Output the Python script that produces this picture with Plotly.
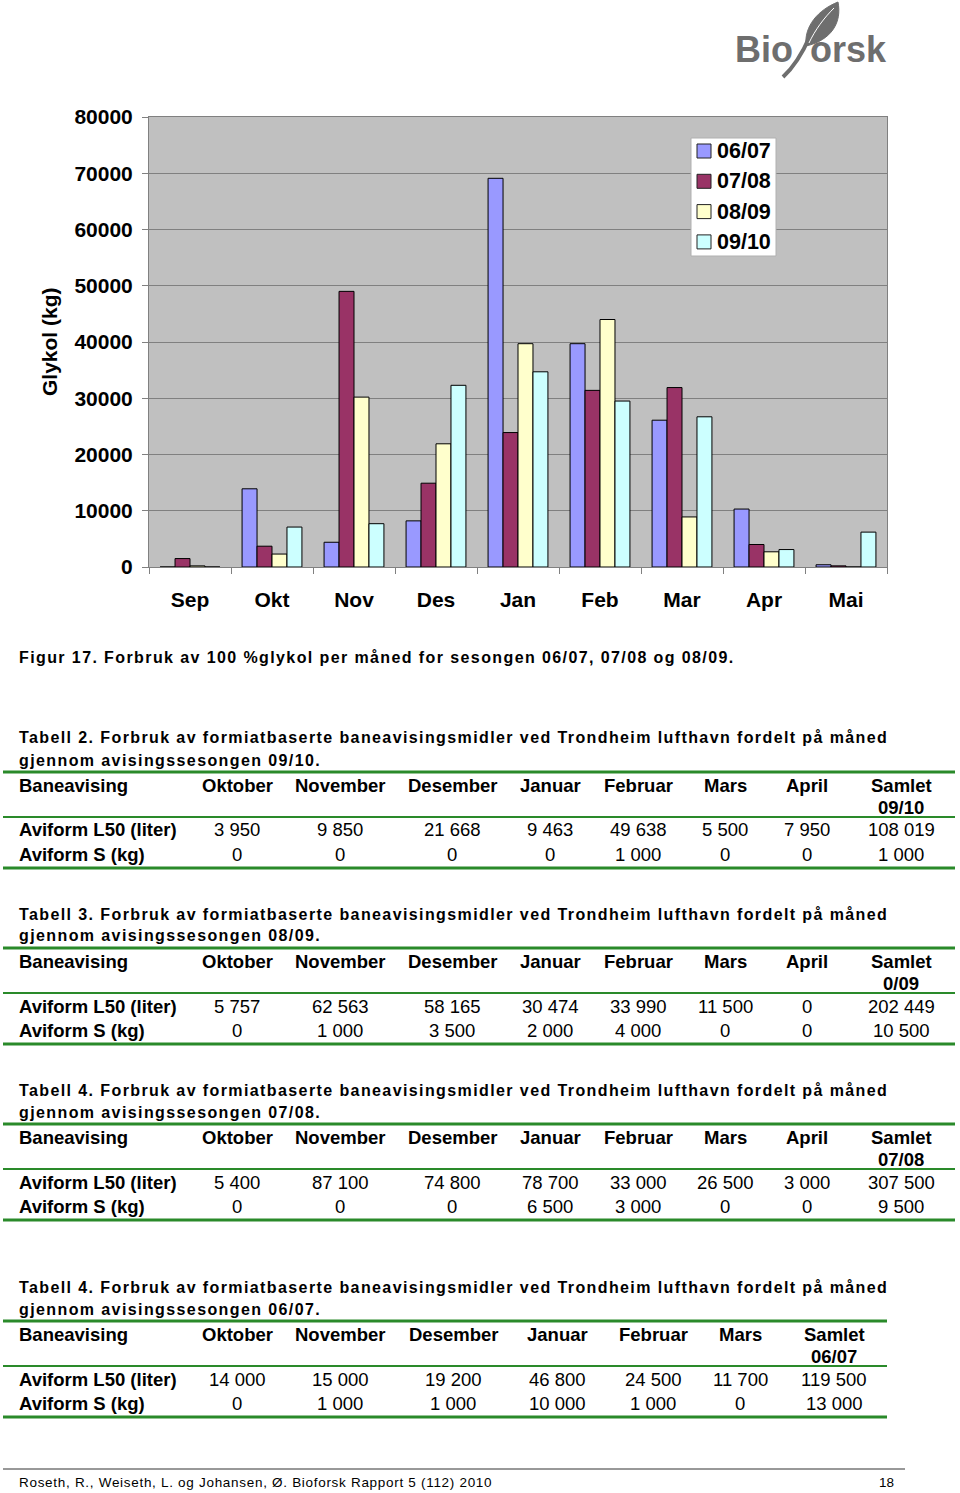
import plotly.graph_objects as go

W, H = 960, 1493

# ---------------- chart data ----------------
months = ["Sep", "Okt", "Nov", "Des", "Jan", "Feb", "Mar", "Apr", "Mai"]
season_names = ["06/07", "07/08", "08/09", "09/10"]
s0607 = [0, 13900, 4400, 8200, 69100, 39700, 26100, 10300, 400]
s0708 = [1500, 3700, 49000, 14900, 23900, 31400, 31900, 4000, 200]
s0809 = [200, 2300, 30200, 21900, 39700, 44000, 8900, 2700, 0]
s0910 = [0, 7100, 7700, 32300, 34700, 29500, 26700, 3100, 6200]
season_colors = ["#9999FF", "#993366", "#FFFFCC", "#CCFFFF"]
y_ticks = [0, 10000, 20000, 30000, 40000, 50000, 60000, 70000, 80000]

# ---------------- text data ----------------
fig_caption = "Figur 17. Forbruk av 100 %glykol per måned for sesongen 06/07, 07/08 og 08/09."
caption_line1 = "Forbruk av formiatbaserte baneavisingsmidler ved Trondheim lufthavn fordelt på måned"
row_labels = ["Aviform L50 (liter)", "Aviform S (kg)"]
months_7 = ["Oktober", "November", "Desember", "Januar", "Februar", "Mars", "April"]
months_6 = ["Oktober", "November", "Desember", "Januar", "Februar", "Mars"]

t2_name, t2_season, t2_total = "Tabell 2.", "09/10", "09/10"
t2_l50 = ["3 950", "9 850", "21 668", "9 463", "49 638", "5 500", "7 950", "108 019"]
t2_s = ["0", "0", "0", "0", "1 000", "0", "0", "1 000"]

t3_name, t3_season, t3_total = "Tabell 3.", "08/09", "0/09"
t3_l50 = ["5 757", "62 563", "58 165", "30 474", "33 990", "11 500", "0", "202 449"]
t3_s = ["0", "1 000", "3 500", "2 000", "4 000", "0", "0", "10 500"]

t4_name, t4_season, t4_total = "Tabell 4.", "07/08", "07/08"
t4_l50 = ["5 400", "87 100", "74 800", "78 700", "33 000", "26 500", "3 000", "307 500"]
t4_s = ["0", "0", "0", "6 500", "3 000", "0", "0", "9 500"]

t5_name, t5_season, t5_total = "Tabell 4.", "06/07", "06/07"
t5_l50 = ["14 000", "15 000", "19 200", "46 800", "24 500", "11 700", "119 500"]
t5_s = ["0", "1 000", "1 000", "10 000", "1 000", "0", "13 000"]

footer_text = "Roseth, R., Weiseth, L. og Johansen, Ø. Bioforsk Rapport 5 (112) 2010"
page_no = "18"

FONT = "Liberation Sans, Arial, sans-serif"
GREEN = "#2a8a2a"


def px(x):
    return x / W


def py(y):
    return 1 - y / H


annotations = []
shapes = []


def text(x, y, s, size, bold=False, anchor="left", color="black", angle=0):
    annotations.append(dict(
        x=px(x), y=py(y), xref="paper", yref="paper",
        text=("<b>%s</b>" % s) if bold else s, showarrow=False,
        xanchor=anchor, yanchor="middle", textangle=angle,
        align=anchor if anchor in ("left", "right") else "center",
        font=dict(family=FONT, size=size, color=color)))


def hline(x0, x1, y, width, color):
    shapes.append(dict(type="line", xref="paper", yref="paper",
                       x0=px(x0), x1=px(x1), y0=py(y), y1=py(y),
                       line=dict(color=color, width=width)))


def rect(x0, y0, x1, y1, fill, line_color, width=1):
    shapes.append(dict(type="rect", xref="paper", yref="paper",
                       x0=px(x0), x1=px(x1), y0=py(y0), y1=py(y1),
                       fillcolor=fill, line=dict(color=line_color, width=width)))


# ---------------- figure ----------------
fig = go.Figure()
for name, vals, col in zip(season_names, [s0607, s0708, s0809, s0910], season_colors):
    fig.add_trace(go.Bar(x=months, y=vals, name=name, showlegend=False,
                         marker=dict(color=col, line=dict(color="black", width=1))))

# legend (drawn as a box)
rect(691, 138, 776, 256, "white", "#b0b0b0")
for i, (name, col) in enumerate(zip(season_names, season_colors)):
    cy = 151 + 30.3 * i
    rect(697, cy - 7, 711, cy + 7, col, "#222222")
    text(715, cy, name, 21.5, bold=True)

# y-axis title
text(50, 342, "Glykol (kg)", 21, bold=True, anchor="center", angle=-90)

# figure caption
CAP = 16
text(17, 657, fig_caption, CAP, bold=True)


def draw_table(top, name, season, total_label, cols, centers, l50, s, line_right):
    cap_y = top
    text(17, cap_y, "%s %s" % (name, caption_line1), CAP, bold=True)
    text(17, cap_y + 22, "gjennom avisingssesongen %s." % season, CAP, bold=True)
    hline(3, line_right, cap_y + 34, 3, GREEN)
    hy = cap_y + 47
    text(17, hy, "Baneavising", 18.5, bold=True)
    for c, cx in zip(cols + ["Samlet"], centers):
        text(cx, hy, c, 18.5, bold=True, anchor="center")
    text(centers[-1], hy + 22, total_label, 18.5, bold=True, anchor="center")
    hline(3, line_right, cap_y + 79, 2, GREEN)
    ry = cap_y + 92
    for i, (lab, vals) in enumerate(zip(row_labels, [l50, s])):
        text(17, ry + 24 * i, lab, 18.5, bold=True)
        for v, cx in zip(vals, centers):
            text(cx, ry + 24 * i, v, 18.5, anchor="center")
    hline(3, line_right, cap_y + 130, 3, GREEN)


centers8 = [237, 340, 452, 550, 638, 725, 807, 901]
centers7 = [237, 340, 453, 557, 653, 740, 834]

draw_table(738, t2_name, t2_season, t2_total, months_7, centers8, t2_l50, t2_s, 955)
draw_table(914, t3_name, t3_season, t3_total, months_7, centers8, t3_l50, t3_s, 955)
draw_table(1090, t4_name, t4_season, t4_total, months_7, centers8, t4_l50, t4_s, 955)
draw_table(1287, t5_name, t5_season, t5_total, months_6, centers7, t5_l50, t5_s, 887)

# footer
hline(3, 905, 1469, 1, "#333333")
text(17, 1482, footer_text, 13.5)
text(886, 1482, page_no, 13.5, anchor="center")

# logo
LOGO = "#6e6e6e"
text(764, 50, "Bio", 36, bold=True, anchor="center", color=LOGO)
text(848, 50, "orsk", 36, bold=True, anchor="center", color=LOGO)


def path(points_cmds):
    out = []
    for tok in points_cmds:
        if isinstance(tok, str):
            out.append(tok)
        else:
            out.append("%f,%f" % (px(tok[0]), py(tok[1])))
    return " ".join(out)


shapes.append(dict(type="path", xref="paper", yref="paper",
                   path=path(["M", (783, 77), "C", (795, 66), (803, 52), (810, 36)]),
                   line=dict(color=LOGO, width=4)))
shapes.append(dict(type="path", xref="paper", yref="paper",
                   path=path(["M", (806, 46), "C", (804, 26), (818, 10), (838, 2),
                              "C", (842, 22), (832, 40), (806, 46), "Z"]),
                   fillcolor=LOGO, line=dict(color=LOGO, width=1)))
shapes.append(dict(type="path", xref="paper", yref="paper",
                   path=path(["M", (809, 43), "C", (815, 30), (824, 18), (834, 8)]),
                   line=dict(color="white", width=1)))

fig.update_layout(
    width=W, height=H,
    margin=dict(l=0, r=0, t=0, b=0, autoexpand=False),
    paper_bgcolor="white",
    plot_bgcolor="#C0C0C0",
    barmode="group",
    bargap=0.27,
    bargroupgap=0,
    font=dict(family=FONT, color="black"),
    showlegend=False,
    xaxis=dict(domain=[px(149), px(887)], type="category", automargin=False,
               showline=True, linecolor="#808080", linewidth=1, mirror=True,
               ticks="outside", tickson="boundaries", ticklen=6, tickcolor="#808080",
               tickfont=dict(family=FONT, size=21, color="black", weight="bold"),
               ticklabelstandoff=14, showgrid=False, fixedrange=True),
    yaxis=dict(domain=[py(567), py(117)], range=[0, 80000], tickvals=y_ticks,
               tickformat="d", automargin=False,
               showline=True, linecolor="#808080", linewidth=1, mirror=True,
               ticks="outside", ticklen=6, tickcolor="#808080",
               tickfont=dict(family=FONT, size=21, color="black", weight="bold"),
               ticklabelstandoff=5,
               showgrid=True, gridcolor="#808080", gridwidth=1,
               zeroline=False, fixedrange=True),
    annotations=annotations,
    shapes=shapes,
)

post = """
document.body.style.margin='0';
document.body.style.overflow='hidden';
document.querySelectorAll('text.annotation-text').forEach(function(t){
  var s = t.textContent;
  if (/^(Figur|Tabell|gjennom)/.test(s)) { t.setAttribute('letter-spacing', '1.4px'); }
  else if (/^Roseth/.test(s)) { t.setAttribute('letter-spacing', '0.7px'); }
});
"""

fig.write_html("out.html", config={"displayModeBar": False}, post_script=post)
